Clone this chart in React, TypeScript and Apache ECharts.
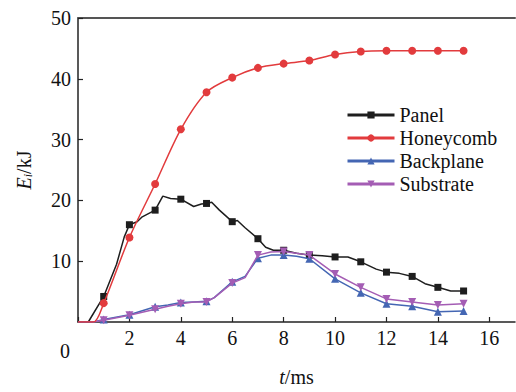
import React, { useEffect, useRef } from "react";
import * as echarts from "echarts";

const xTicks = [0, 2, 4, 6, 8, 10, 12, 14, 16];
const yTicks = [0, 10, 20, 30, 40, 50];
const seriesNames = ["Panel", "Honeycomb", "Backplane", "Substrate"];

const panelT = [0, 0.4, 1, 1.5, 1.8, 2, 2.3, 2.5, 3, 3.3, 3.6, 4, 4.5, 4.8, 5, 5.2, 5.5, 6, 6.2, 6.5, 7, 7.3, 7.6, 8, 8.5, 9, 9.5, 10, 10.5, 11, 11.6, 12, 12.5, 13, 13.5, 14, 14.5, 15];
const panelE = [0, 0, 4.2, 9.5, 14.0, 16.0, 16.5, 17.3, 18.4, 20.7, 20.3, 20.2, 19.0, 19.4, 19.5, 19.7, 18.4, 16.5, 16.7, 15.5, 13.7, 12.3, 11.8, 11.8, 11.3, 11.0, 10.9, 10.7, 10.7, 9.9, 8.7, 8.2, 8.0, 7.5, 6.3, 5.7, 5.1, 5.1];

const honeyT = [0, 0.6, 1, 2, 3, 4, 5, 6, 7, 8, 9, 10, 11, 12, 13, 14, 15];
const honeyE = [0, 0, 3.1, 13.9, 22.7, 31.7, 37.8, 40.2, 41.8, 42.5, 43.0, 44.0, 44.5, 44.6, 44.6, 44.6, 44.6];

const backT = [0, 0.6, 1, 2, 3, 3.5, 4, 4.5, 5, 5.3, 6, 6.5, 7, 7.5, 8, 8.5, 9, 10, 11, 12, 13, 14, 15];
const backE = [0, 0, 0.4, 1.2, 2.5, 2.8, 3.2, 3.3, 3.4, 4.0, 6.6, 7.5, 10.5, 11.0, 11.0, 10.8, 10.4, 7.1, 4.8, 3.0, 2.6, 1.7, 1.8];

const subT = [0, 0.6, 1, 2, 3, 3.5, 4, 4.5, 5, 5.3, 6, 6.5, 7, 7.5, 8, 8.5, 9, 10, 11, 12, 13, 14, 15];
const subE = [0, 0, 0.3, 1.1, 2.1, 2.6, 3.0, 3.3, 3.3, 4.0, 6.4, 7.3, 11.0, 11.5, 11.6, 11.3, 11.0, 7.9, 5.7, 3.8, 3.3, 2.8, 3.0];

const FONT = "Liberation Serif";

function build(ts: number[], es: number[]) {
  return ts.map((t, i) => {
    const marked = Number.isInteger(t) && t >= 1;
    return marked ? { value: [t, es[i]] } : { value: [t, es[i]], symbol: "none" };
  });
}

export default function App() {
  const ref = useRef<HTMLDivElement>(null);
  useEffect(() => {
    if (!ref.current) return;
    const chart = echarts.init(ref.current, null, { renderer: "svg" });
    const colors = ["#1e1e1e", "#e23b3d", "#4466b3", "#a45db4"];
    const symbols = ["rect", "circle", "triangle", "path://M0,0L10,0L5,9Z"];
    const sizes = [7, 8, 8, 8];
    const datas = [build(panelT, panelE), build(honeyT, honeyE), build(backT, backE), build(subT, subE)];
    chart.setOption({
      animation: false,
      textStyle: { fontFamily: FONT },
      grid: { left: 78, top: 18, right: 1, bottom: 57, containLabel: false },
      legend: {
        orient: "vertical",
        left: 341,
        top: 100,
        itemWidth: 47,
        itemHeight: 9,
        itemGap: 3,
        data: seriesNames,
        textStyle: { fontFamily: FONT, fontSize: 20, color: "#111", lineHeight: 20 },
        lineStyle: { width: 3 },
      },
      xAxis: [
        {
          type: "value",
          min: xTicks[0],
          max: 17,
          interval: 2,
          name: "{i|t}{n|/ms}",
          nameLocation: "middle",
          nameGap: 45,
          nameTextStyle: {
            fontFamily: FONT,
            fontSize: 20,
            color: "#111",
            rich: {
              i: { fontStyle: "italic", fontFamily: FONT, fontSize: 20, color: "#111" },
              n: { fontFamily: FONT, fontSize: 20, color: "#111" },
            },
          },
          axisLine: { show: true, lineStyle: { color: "#222", width: 1.5 } },
          axisTick: { show: true, inside: true, length: 5, lineStyle: { color: "#222", width: 1.2 } },
          axisLabel: {
            fontFamily: FONT,
            fontSize: 20,
            color: "#111",
            margin: 6,
            showMaxLabel: false,
            formatter: (v: number) => (v === 0 || v > 16 ? "" : String(v)),
          },
          splitLine: { show: false },
        },
        {
          type: "value",
          position: "top",
          min: 0,
          max: 17,
          axisLine: { show: true, onZero: false, lineStyle: { color: "#555", width: 2 } },
          axisTick: { show: false },
          axisLabel: { show: false },
          splitLine: { show: false },
        },
      ],
      yAxis: {
        type: "value",
        min: yTicks[0],
        max: yTicks[yTicks.length - 1],
        interval: 10,
        name: "{i|E}{s|i}{n|/kJ}",
        nameLocation: "middle",
        nameGap: 44,
        nameRotate: 90,
        nameTextStyle: {
          color: "#111",
          fontFamily: FONT,
          rich: {
            i: { fontStyle: "italic", fontFamily: FONT, fontSize: 20, color: "#111" },
            s: { fontStyle: "italic", fontFamily: FONT, fontSize: 12, color: "#111", verticalAlign: "bottom", padding: [8, 0, 0, 0] },
            n: { fontFamily: FONT, fontSize: 20, color: "#111" },
          },
        },
        axisLine: { show: true, lineStyle: { color: "#222", width: 1.5 } },
        axisTick: { show: true, inside: true, length: 5, lineStyle: { color: "#222", width: 1.2 } },
        axisLabel: { fontFamily: FONT, fontSize: 20, color: "#111", margin: 7, showMinLabel: false },
        splitLine: { show: false },
      },
      graphic: [
        { type: "text", left: 60, top: 341, style: { text: "0", fontFamily: FONT, fontSize: 20, fill: "#111" } },
      ],
      series: seriesNames.map((name, k) => ({
        name,
        type: "line",
        data: datas[k],
        smooth: k === 1 ? 0.3 : false,
        symbol: symbols[k],
        symbolSize: sizes[k],
        showAllSymbol: true,
        lineStyle: { color: colors[k], width: 1.5 },
        itemStyle: { color: colors[k] },
        color: colors[k],
        z: k === 1 ? 3 : 2 + k * 0.1,
      })),
    });
    return () => chart.dispose();
  }, []);
  return <div ref={ref} style={{ width: 516, height: 392, position: "absolute", left: 0, top: 0 }} />;
}
